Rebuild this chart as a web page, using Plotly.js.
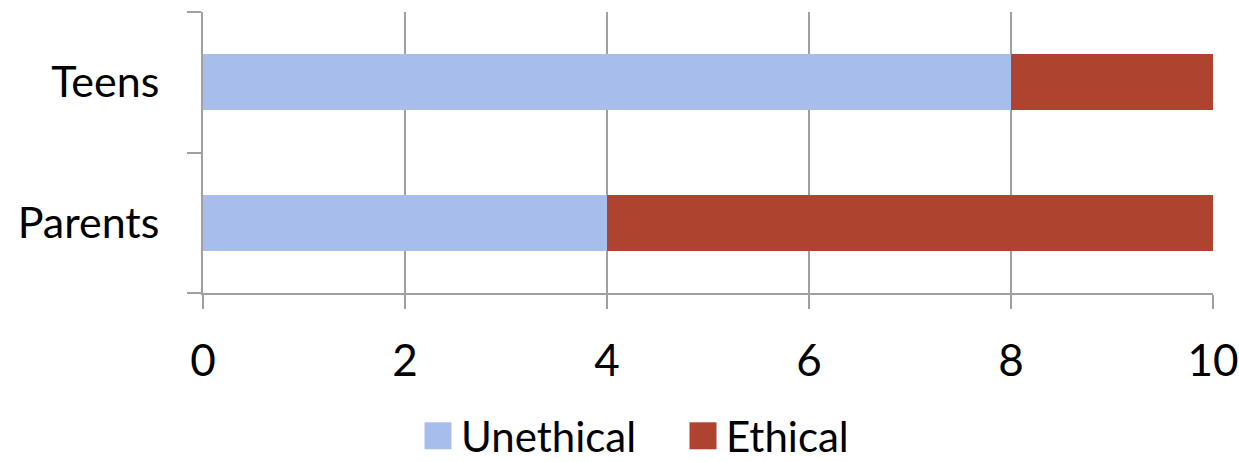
<!DOCTYPE html>
<html>
<head>
<meta charset="utf-8">
<script src="https://cdn.plot.ly/plotly-3.0.1.min.js"></script>
<style>html,body{margin:0;padding:0;background:#fff;}#chart{width:1239px;height:462px;}</style>
</head>
<body>
<div id="chart"></div>
<script>
const categories = ['Parents', 'Teens'];
const seriesNames = ['Unethical', 'Ethical'];
const unethical = [4, 8];
const ethical = [6, 2];
const xTicks = [0, 2, 4, 6, 8, 10];

const gray = '#A0A0A0';
const font = 'Lato, "Open Sans", sans-serif';

const traces = [
  {type: 'bar', orientation: 'h', name: seriesNames[0], y: categories, x: unethical,
   marker: {color: '#A7BDEC'}, width: 0.4, hoverinfo: 'none'},
  {type: 'bar', orientation: 'h', name: seriesNames[1], y: categories, x: ethical,
   marker: {color: '#AE432F'}, width: 0.4, hoverinfo: 'none'}
];

const layout = {
  width: 1239, height: 462,
  margin: {l: 203, r: 26, t: 12, b: 169},
  paper_bgcolor: '#fff', plot_bgcolor: '#fff',
  barmode: 'stack',
  font: {family: font, color: '#000'},
  xaxis: {
    range: [0, 10], tickvals: xTicks, ticktext: xTicks.map(String),
    showgrid: true, gridcolor: gray, gridwidth: 2,
    showline: true, linecolor: gray, linewidth: 2,
    ticks: 'outside', ticklen: 14, tickwidth: 2, tickcolor: gray,
    tickfont: {size: 44, family: font, color: '#000'},
    ticklabelstandoff: 14,
    ticklabeloverflow: 'allow',
    zeroline: false, fixedrange: true
  },
  yaxis: {
    type: 'category', range: [-0.5, 1.5],
    tickson: 'boundaries',
    showgrid: false,
    showline: true, linecolor: gray, linewidth: 2,
    ticks: 'outside', ticklen: 14, tickwidth: 2, tickcolor: gray,
    tickfont: {size: 43, family: font, color: '#000'},
    ticklabelstandoff: 33,
    zeroline: false, fixedrange: true
  },
  showlegend: true,
  legend: {
    orientation: 'h', xref: 'container', yref: 'container',
    x: 415 / 1239, xanchor: 'left', y: 0, yanchor: 'bottom',
    font: {size: 42, family: font, color: '#000'},
    entrywidth: 214, entrywidthmode: 'pixels',
    itemwidth: 36, traceorder: 'normal',
    bgcolor: 'rgba(0,0,0,0)'
  }
};

Plotly.newPlot('chart', traces, layout, {displayModeBar: false, staticPlot: true}).then(function () {
  document.querySelectorAll('#chart .legendpoints path').forEach(function (p) {
    const bb = p.getBBox();
    const cx = bb.x + bb.width / 2, cy = bb.y + bb.height / 2;
    const s = 27 / Math.max(bb.width, 1);
    const orig = p.getAttribute('transform') || '';
    p.setAttribute('transform', orig + ' translate(' + cx + ',' + cy + ') scale(' + s + ') translate(' + (-cx) + ',' + (-cy) + ')');
    p.style.strokeWidth = '0';
  });
  const lg = document.querySelector('#chart g.legend');
  if (lg) {
    const t = lg.getAttribute('transform') || '';
    lg.setAttribute('transform', t + ' translate(0,8)');
  }
});
</script>
</body>
</html>
